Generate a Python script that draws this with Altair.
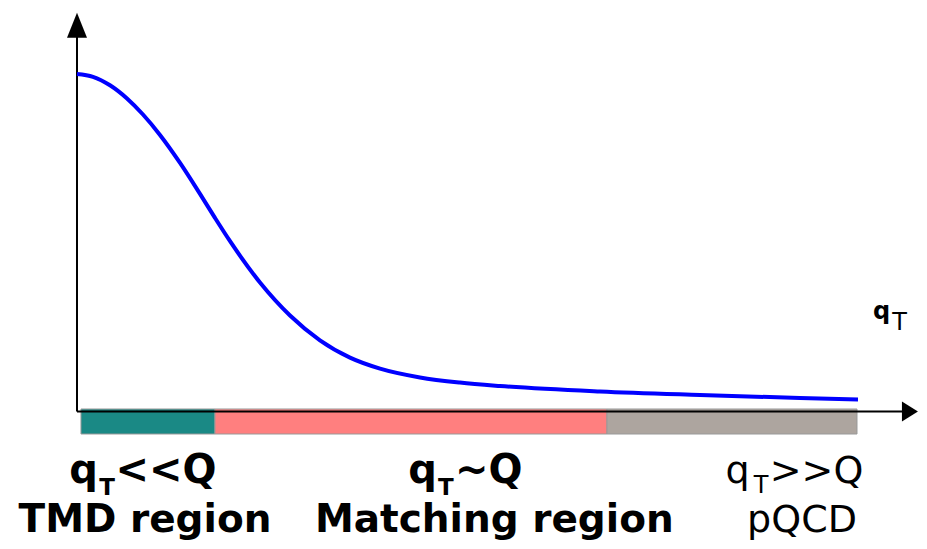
import altair as alt
import pandas as pd

# ---- data (x in qT units, origin at axis; y normalised to curve peak) ----
curve_x = [0.0, 0.205, 0.423, 0.641, 0.846, 1.064, 1.321, 1.577, 1.769, 1.962, 2.346,
           2.731, 3.115, 3.5, 3.885, 4.397, 4.910, 5.423, 6.705, 7.987, 9.269, 10.013]
curve_y = [0.997, 0.9888, 0.9637, 0.9247, 0.8774, 0.8171, 0.7344, 0.6428, 0.5719, 0.5031, 0.3811,
           0.2836, 0.2103, 0.1592, 0.1267, 0.1007, 0.0854, 0.0753, 0.0591, 0.0487, 0.0399, 0.0355]

region_names = ["TMD", "Matching", "pQCD"]
region_start = [0.051, 1.769, 6.795]
region_end = [1.769, 6.795, 10.0]
region_colors = ["#1a8985", "#ff7f7f", "#ada59f"]
band_top = 0.0074
band_bottom = -0.0665

# label pieces: text, x, y(baseline)
bold_main = [("q", 0.083, -0.2112), ("<<Q", 1.141, -0.2112),
             ("q", 4.430, -0.2112), ("~Q", 5.280, -0.2112)]
bold_sub = [("T", 0.385, -0.2467), ("T", 4.730, -0.2467)]
reg_main = [("q", 8.468, -0.2112), (">>Q", 9.481, -0.2112)]
reg_sub = [("T", 8.770, -0.2408)]
bold_bottom = [("TMD region", 0.872, -0.3560), ("Matching region", 5.350, -0.3560)]
reg_bottom = [("pQCD", 9.295, -0.3560)]
axis_q = [("q", 10.314, 0.2733)]
axis_t = [("T", 10.545, 0.2408)]

# axes
yaxis_top = 1.12
yarrow = (0.0, 1.1409)
xaxis_end = 10.60
xarrow = (10.679, 0.0)

XDOM = [-0.8846, 10.795]
YDOM = [-0.38257, 1.19202]
xs = alt.Scale(domain=XDOM, nice=False, zero=False)
ys = alt.Scale(domain=YDOM, nice=False, zero=False)


def X(f):
    return alt.X(f, type="quantitative", scale=xs, axis=None)


def Y(f):
    return alt.Y(f, type="quantitative", scale=ys, axis=None)


curve_df = pd.DataFrame({"x": curve_x, "y": curve_y})
band_df = pd.DataFrame({"name": region_names, "x": region_start, "x2": region_end,
                        "y": [band_top] * 3, "y2": [band_bottom] * 3})


def tdf(items):
    return pd.DataFrame(items, columns=["t", "x", "y"])


band = alt.Chart(band_df).mark_rect(stroke="#999999", strokeWidth=1).encode(
    x=X("x"), x2="x2", y=Y("y"), y2="y2",
    color=alt.Color("name:N", scale=alt.Scale(domain=region_names, range=region_colors), legend=None),
)

yaxis = alt.Chart(pd.DataFrame({"x": [0.0], "y": [0.0], "y2": [yaxis_top]})).mark_rule(
    color="black", strokeWidth=2).encode(x=X("x"), y=Y("y"), y2="y2")
xaxis = alt.Chart(pd.DataFrame({"x": [0.0], "x2": [xaxis_end], "y": [0.0]})).mark_rule(
    color="black", strokeWidth=2).encode(x=X("x"), x2="x2", y=Y("y"))

uparrow = alt.Chart(pd.DataFrame({"x": [yarrow[0]], "y": [yarrow[1]]})).mark_point(
    shape="M0,-1L0.8,1L-0.8,1Z", filled=True, fill="black", strokeWidth=0, opacity=1, size=625
).encode(x=X("x"), y=Y("y"))
rightarrow = alt.Chart(pd.DataFrame({"x": [xarrow[0]], "y": [xarrow[1]]})).mark_point(
    shape="M1,0L-1,-1.25L-1,1.25Z", filled=True, fill="black", strokeWidth=0, opacity=1, size=256
).encode(x=X("x"), y=Y("y"))

line = alt.Chart(curve_df).mark_line(color="#0000ff", strokeWidth=4, interpolate="monotone").encode(
    x=X("x"), y=Y("y"))


def text_layer(items, size, weight):
    return alt.Chart(tdf(items)).mark_text(
        font="DejaVu Sans", fontSize=size, fontWeight=weight, align="center",
        baseline="alphabetic", color="black"
    ).encode(x=X("x"), y=Y("y"), text="t:N")


layers = [
    band, xaxis, yaxis, uparrow, rightarrow, line,
    text_layer(bold_main, 40, "bold"),
    text_layer(bold_sub, 23, "bold"),
    text_layer(reg_main, 38, "normal"),
    text_layer(reg_sub, 24, "normal"),
    text_layer(bold_bottom, 39, "bold"),
    text_layer(reg_bottom, 38, "normal"),
    text_layer(axis_q, 24, "bold"),
    text_layer(axis_t, 24, "normal"),
]

chart = alt.layer(*layers).properties(
    width=911, height=533, padding=0, autosize=alt.AutoSizeParams(type="none")
).configure_view(stroke=None)

chart.save("out.html", embed_options={"renderer": "svg", "actions": False})
